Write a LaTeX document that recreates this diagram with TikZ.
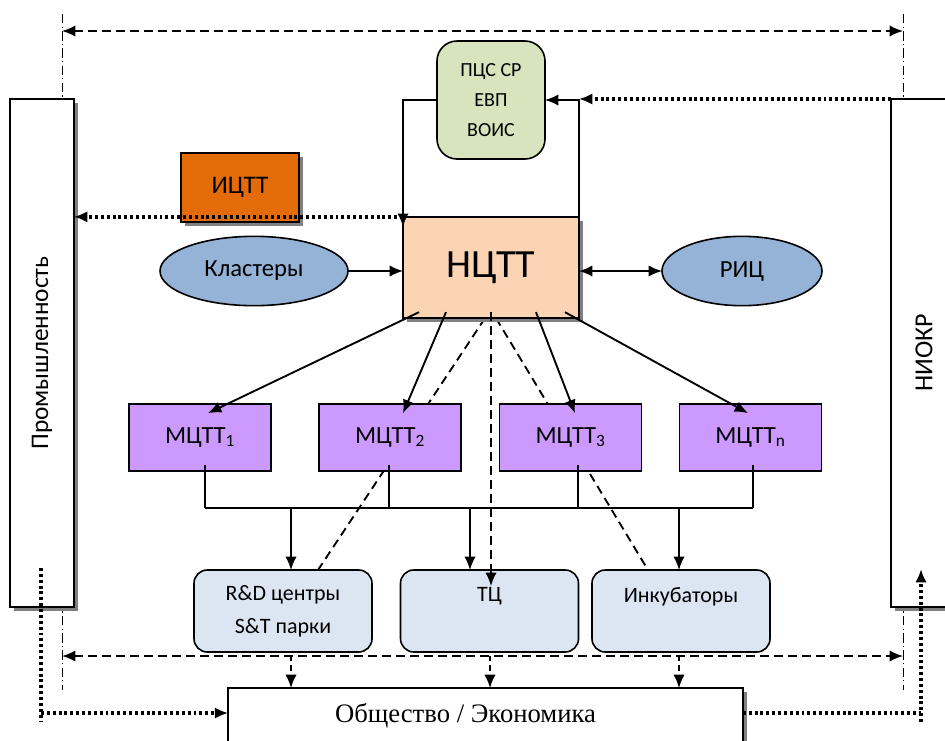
\documentclass[tikz,border=0pt]{standalone}
\usepackage{fontspec}
\usepackage{graphicx}
\setmainfont{Carlito}
\newfontfamily\socfont{Liberation Serif}
\usetikzlibrary{arrows.meta,calc,shadows,backgrounds,shapes.geometric}

\definecolor{pcsgreen}{HTML}{D7E4BD}
\definecolor{icttorange}{HTML}{E36C09}
\definecolor{ncttpeach}{HTML}{FBD4B4}
\definecolor{ellblue}{HTML}{95B3D7}
\definecolor{mcttpurple}{HTML}{CC99FF}
\definecolor{centreblue}{HTML}{DCE6F2}

\begin{document}
\begin{tikzpicture}[x=0.75pt,y=-0.75pt,
  every node/.style={inner sep=0pt,outer sep=0pt},
  box/.style={draw=black,line width=1.2pt},
  boxshadow/.style={drop shadow={shadow xshift=3pt,shadow yshift=-3pt,fill=black!50,opacity=1}},
  tip/.style={-{Latex[length=10pt,width=8.5pt]}},
  arr/.style={line width=1.4pt,tip},
  darr/.style={line width=1.4pt,{Latex[length=10pt,width=8.5pt]}-{Latex[length=10pt,width=8.5pt]}},
  dashline/.style={line width=1.4pt,dash pattern=on 6.5pt off 4pt},
  shortdash/.style={line width=1.4pt,dash pattern=on 4pt off 3pt},
  dotline/.style={line width=2.6pt,dash pattern=on 2.2pt off 2.2pt},
  dashdot/.style={line width=0.7pt,dash pattern=on 7pt off 2.5pt on 0.9pt off 2.5pt},
  busline/.style={line width=0.9pt},
  mctt/.style={box,fill=mcttpurple,minimum width=106.5pt,minimum height=50pt,font=\fontsize{18.5}{22}\selectfont},
  centre/.style={box,rounded corners=10pt,fill=centreblue,minimum width=133.5pt,minimum height=61.5pt,align=center,font=\fontsize{16.5}{24.75}\selectfont},
  oval/.style={box,ellipse,fill=ellblue,minimum height=52pt,font=\fontsize{18.5}{22}\selectfont}
]
\useasboundingbox (0,0) rectangle (945,740);
\clip (0,0) rectangle (945,740);

% guide coordinates of the dash-dot frame and the two wide dashed arrows
\coordinate (lt) at (62,14);
\coordinate (lb) at (62,690);
\coordinate (rt) at (903,14);
\coordinate (rb) at (903,690);
\coordinate (tl) at (62,31);
\coordinate (tr) at (903,31);
\coordinate (bl) at (62,656);
\coordinate (br) at (903,656);

% side blocks
\node[box,boxshadow,fill=white,minimum width=48pt,minimum height=381pt,
      font=\fontsize{19}{22}\selectfont] (prom) at (42,353) {\rotatebox{90}{Промышленность}};
\node[box,boxshadow,fill=white,minimum width=49.5pt,minimum height=381pt,
      font=\fontsize{19.5}{22}\selectfont] (niokr) at (924,353) {\rotatebox{90}{НИОКР}};

% top block
\node[box,rounded corners=15pt,fill=pcsgreen,minimum width=81pt,minimum height=88.5pt,
      align=center,font=\fontsize{15}{22.5}\selectfont] (pcs) at (491,100) {ПЦС СР\\ЕВП\\ВОИС};
\node[box,boxshadow,fill=icttorange,minimum width=88.5pt,minimum height=52pt,
      font=\fontsize{19}{22}\selectfont] (ictt) at (240,187.5) {ИЦТТ};
\node[box,boxshadow,fill=ncttpeach,minimum width=132pt,minimum height=76pt,
      font=\fontsize{30}{34}\selectfont] (nctt) at (491,267.5) {НЦТТ};
\node[oval,minimum width=141pt] (kl) at (254,271) {Кластеры};
\node[oval,minimum width=120pt] (ric) at (742,271) {РИЦ};

% regional centres
\node[mctt] (m1) at (200,437.5) {МЦТТ\textsubscript{1}};
\node[mctt] (m2) at (390,437.5) {МЦТТ\textsubscript{2}};
\node[mctt] (m3) at (570.5,437.5) {МЦТТ\textsubscript{3}};
\node[mctt] (m4) at (750.5,437.5) {МЦТТ\textsubscript{n}};

% infrastructure
\node[centre] (rd) at (283,611) {R\&D центры\\S\&T парки};
\node[centre] (tc) at (489.5,611) {ТЦ\\\mbox{}};
\node[centre] (inc) at (681,611) {Инкубаторы\\\mbox{}};

% society
\node[box,boxshadow,fill=white,minimum width=386pt,minimum height=45pt,
      font=\socfont\fontsize{20}{22}\selectfont,text height=14pt,text depth=7pt] (soc) at (485.5,718)
      {Общество / Экономика\hspace*{30pt}};

% lines lying under the blocks
\begin{scope}[on background layer]
  \draw[dashdot] (lt) -- (lb);
  \draw[dashdot] (rt) -- (rb);
  \draw[dashline] ($(nctt.south)+(-6,0)$) -- ($(rd.north east)+(-54,0)$);
  \draw[dashline] ($(nctt.south)+(5,0)$) -- ($(inc.north west)+(56,0)$);
\end{scope}

% wide dashed exchanges
\draw[darr,dashline] (tl) -- (tr);
\draw[darr,dashline] (bl) -- (br);

% top loop through ПЦС
\draw[arr] (pcs.west) -| ($(nctt.north west)+(0,10)$);
\draw[arr] (nctt.north east) |- (pcs.east);
\draw[arr,dotline] (niokr.north west) -- (nctt.north east |- niokr.north west);

% ИЦТТ to industry
\draw[arr,dotline] (nctt.north west) -- (prom.east |- nctt.north west);

% side links of НЦТТ
\draw[arr] (kl.east) -- (kl.east -| nctt.west);
\draw[darr] (nctt.east |- ric.west) -- (ric.west);

% НЦТТ to МЦТТ
\draw[arr] ($(nctt.south west)+(16,-6)$) -- ($(m1.north)+(8,9)$);
\draw[arr] ($(nctt.south west)+(43,-6)$) -- ($(m2.north)+(13,9)$);
\draw[arr] ($(nctt.south east)+(-43,-6)$) -- ($(m3.north)+(4.5,9)$);
\draw[arr] ($(nctt.south east)+(-14,-6)$) -- ($(m4.north)+(-2.5,9)$);
\draw[arr,dashline] ($(nctt.south)+(0,-6)$) -- ($(tc.north -| nctt.south)+(0,16)$);

% bus from МЦТТ to infrastructure
\coordinate (b1) at (205,508);
\coordinate (b2) at (389,508);
\coordinate (b3) at (578,508);
\coordinate (b4) at (753,508);
\draw[busline] ($(b1 |- m1.south)+(0,-6)$) -- (b1);
\draw[busline] ($(b2 |- m2.south)+(0,-6)$) -- (b2);
\draw[busline] ($(b3 |- m3.south)+(0,-6)$) -- (b3);
\draw[busline] ($(b4 |- m4.south)+(0,-6)$) -- (b4);
\draw[busline] (b1) -- (b4);
\coordinate (d1) at (291,508);
\coordinate (d2) at (470,508);
\coordinate (d3) at (679,508);
\draw[arr] (d1) -- (d1 |- rd.north);
\draw[arr] (d2) -- (d2 |- tc.north);
\draw[arr] (d3) -- (d3 |- inc.north);

% infrastructure to society
\coordinate (s1) at (291,656);
\coordinate (s2) at (490,656);
\coordinate (s3) at (679,656);
\draw[arr,shortdash] (s1) -- (s1 |- soc.north);
\draw[arr,shortdash] (s2) -- (s2 |- soc.north);
\draw[arr,shortdash] (s3) -- (s3 |- soc.north);

% industry -> society -> research
\coordinate (pl) at (41,713);
\coordinate (pr) at (921,713);
\draw[dotline] (41,568) -- (41,722);
\draw[arr,dotline] (pl) -- (pl -| soc.west);
\draw[dotline] (pl -| soc.east) -- (pr);
\draw[arr,dotline] (921,722) -- (921,569);
\end{tikzpicture}
\end{document}
